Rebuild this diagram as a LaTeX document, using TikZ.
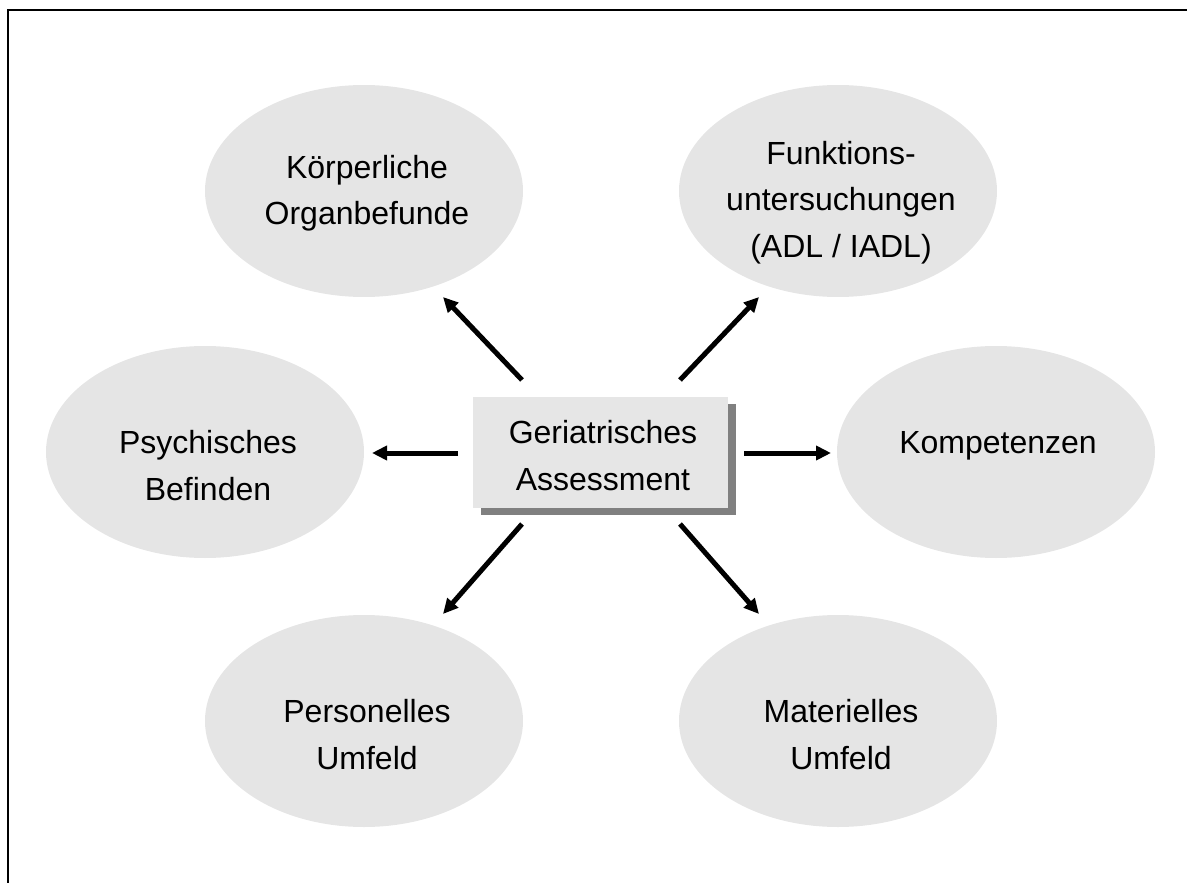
\documentclass[tikz,border=0pt]{standalone}
\usepackage{fontspec}
\setmainfont{Liberation Sans}
\usetikzlibrary{arrows.meta,shapes.geometric}
\definecolor{ellfill}{HTML}{E5E5E5}
\definecolor{boxfill}{HTML}{E6E6E6}
\definecolor{shadowgray}{HTML}{808080}
\begin{document}
\begin{tikzpicture}[x=1pt,y=-1pt,
  bubble/.style={ellipse,fill=ellfill,minimum width=318pt,minimum height=212pt,inner sep=0pt},
  label/.style={anchor=base,inner sep=0pt,font=\fontsize{32}{47}\selectfont},
  conn/.style={line width=5pt,-{Triangle[length=15pt,width=14pt]}}]
\useasboundingbox (0,0) rectangle (1187,883);
% frame
\draw[line width=1.4pt] (1187,10) -- (8,10) -- (8,883);
% ellipses
\node[bubble] (e1) at (364,191) {};
\node[bubble] (e2) at (838,191) {};
\node[bubble] (e3) at (205,452) {};
\node[bubble] (e4) at (996,452) {};
\node[bubble] (e5) at (364,721) {};
\node[bubble] (e6) at (838,721) {};
% central box with shadow
\fill[shadowgray] (481,404) rectangle (736,515);
\node[fill=boxfill,minimum width=255pt,minimum height=111pt,inner sep=0pt] (box) at (600.5,452.5) {};
% labels
\newcommand{\lbl}[1]{\begin{tabular}[t]{@{}c@{}}#1\end{tabular}}
\node[label] (t0) at (603,443) {\lbl{Geriatrisches\\Assessment}};
\node[label] (t1) at (367,178) {\lbl{Körperliche\\Organbefunde}};
\node[label] (t2) at (841,164) {\lbl{Funktions-\\untersuchungen\\(ADL / IADL)}};
\node[label] (t3) at (208,453) {\lbl{Psychisches\\Befinden}};
\node[label] (t4) at (998,453) {\lbl{Kompetenzen}};
\node[label] (t5) at (367,722) {\lbl{Personelles\\Umfeld}};
\node[label] (t6) at (841,722) {\lbl{Materielles\\Umfeld}};
% arrow ends
\coordinate (a1s) at (522,380); \coordinate (a1e) at (443,297);
\coordinate (a2s) at (680,380); \coordinate (a2e) at (759,297);
\coordinate (a3s) at (458,453); \coordinate (a3e) at (372,453);
\coordinate (a4s) at (744,453); \coordinate (a4e) at (831,453);
\coordinate (a5s) at (522,524); \coordinate (a5e) at (443,614);
\coordinate (a6s) at (680,524); \coordinate (a6e) at (759,614);
\draw[conn] (a1s) -- (a1e);
\draw[conn] (a2s) -- (a2e);
\draw[conn] (a3s) -- (a3e);
\draw[conn] (a4s) -- (a4e);
\draw[conn] (a5s) -- (a5e);
\draw[conn] (a6s) -- (a6e);
\end{tikzpicture}
\end{document}
